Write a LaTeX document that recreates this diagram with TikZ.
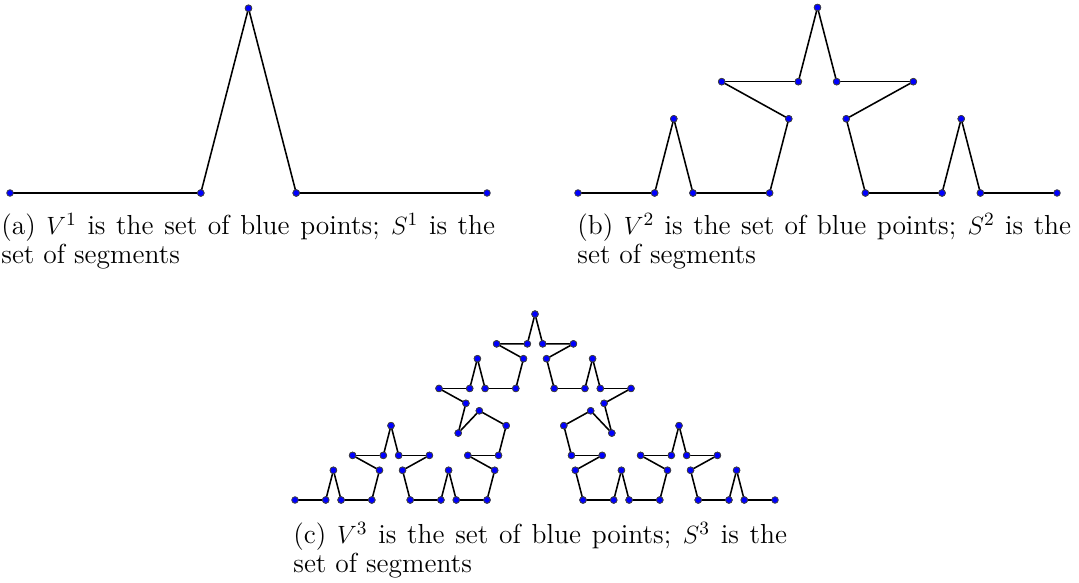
\documentclass[tikz,border=0pt]{standalone}
\tikzset{
  seg/.style={line width=0.75pt, black},
  vdot/.style={fill=blue, draw=black!75, line width=0.35pt},
  capt/.style={anchor=base west, align=left, inner sep=0pt, font=\fontsize{13.2pt}{12.2pt}\selectfont}
}
\newcommand\capline[1]{\makebox[237pt][s]{#1}}
\newif\ifkdotpass
\newcommand\kSeg[5]{%
  \ifnum#5=0
    \ifkdotpass
      \filldraw[vdot] (#1,#2) circle[radius=1.6pt] (#3,#4) circle[radius=1.6pt];
    \else
      \draw[seg] (#1,#2) -- (#3,#4);
    \fi
  \else
    \begingroup
    \pgfmathsetmacro\kAx{#1+0.4*(#3-#1)}%
    \pgfmathsetmacro\kAy{#2+0.4*(#4-#2)}%
    \pgfmathsetmacro\kBx{#3-0.4*(#3-#1)}%
    \pgfmathsetmacro\kBy{#4-0.4*(#4-#2)}%
    \pgfmathsetmacro\kCx{(#1+#3)/2+0.387298*(#4-#2)}%
    \pgfmathsetmacro\kCy{(#2+#4)/2-0.387298*(#3-#1)}%
    \pgfmathtruncatemacro\kLv{#5-1}%
    \edef\kTmp{\noexpand\kSeg{#1}{#2}{\kAx}{\kAy}{\kLv}%
      \noexpand\kSeg{\kAx}{\kAy}{\kCx}{\kCy}{\kLv}%
      \noexpand\kSeg{\kCx}{\kCy}{\kBx}{\kBy}{\kLv}%
      \noexpand\kSeg{\kBx}{\kBy}{#3}{#4}{\kLv}}%
    \kTmp
    \endgroup
  \fi}
\newcommand\kCurve[5]{%
  \kdotpassfalse\kSeg{#1}{#2}{#3}{#4}{#5}%
  \kdotpasstrue\kSeg{#1}{#2}{#3}{#4}{#5}}
\begin{document}
\begin{tikzpicture}[x=0.48pt, y=-0.48pt]
  \useasboundingbox (0,0) rectangle (1079,583);
  % (a)
  \kCurve{10}{193}{487}{193}{1}
  \node[capt] (capa) at (1,263.1) {\capline{(a) $V^1$ is the set of blue points; $S^1$ is the}\\set of segments};
  % (b)
  \kCurve{578}{193}{1057}{193}{2}
  \node[capt] (capb) at (577,263.1) {\capline{(b) $V^2$ is the set of blue points; $S^2$ is the}\\set of segments};
  % (c)
  \kCurve{295}{500}{775}{500}{3}
  \node[capt] (capc) at (293,572) {\capline{(c) $V^3$ is the set of blue points; $S^3$ is the}\\set of segments};
\end{tikzpicture}
\end{document}
